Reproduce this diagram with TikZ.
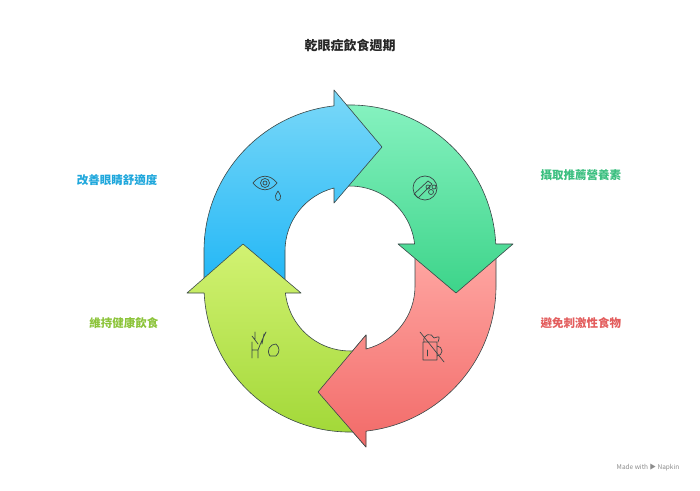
\documentclass[tikz,border=0pt]{standalone}
\usepackage{fontspec}
\setmainfont{Noto Sans CJK TC}
\usetikzlibrary{positioning}
\definecolor{lblblue}{HTML}{1EA7DC}
\definecolor{lblgreen}{HTML}{3BBF80}
\definecolor{lblred}{HTML}{E35D5D}
\definecolor{lbllime}{HTML}{8CC43A}
\definecolor{edge}{HTML}{3A4848}
\definecolor{bluetop}{HTML}{7AD8F8}
\definecolor{bluebot}{HTML}{20B6F6}
\definecolor{greentop}{HTML}{86F2C0}
\definecolor{greenbot}{HTML}{3DD48A}
\definecolor{redtop}{HTML}{FFA8A4}
\definecolor{redbot}{HTML}{F26A68}
\definecolor{limetop}{HTML}{D2F272}
\definecolor{limebot}{HTML}{A2D838}
\tikzset{
  seg/.style={draw=edge,line width=0.6pt,line join=round},
  icon/.style={draw=edge,line width=0.7pt,line cap=round,line join=round},
  lbl/.style={font=\bfseries\fontsize{11.5}{13}\selectfont}
}
\begin{document}
\begin{tikzpicture}[x=1pt,y=1pt]
  \useasboundingbox (0,0) rectangle (700,490);
  \fill[white] (0,0) rectangle (700,490);
  \node[font=\bfseries\fontsize{13}{15}\selectfont,text=black!85] (title) at (350,445) {乾眼症飲食週期};
% ring segments
  \def\redseg{(496,243) -- (496,204) arc[start angle=0,end angle=-83.7,radius=146]
    -- (366,43) -- (318,98) -- (366,155) -- (366,141)
    arc[start angle=-75.75,end angle=0,radius=65] -- (415,243) -- cycle}
  \path[seg,top color=redtop,bottom color=redbot] \redseg;
  \path[seg,top color=greentop,bottom color=greenbot]
    (340,384.7) arc[start angle=93.9,end angle=2.75,radius=146] -- (513,246) -- (456,197)
    -- (398,246) -- (414.6,246) arc[start angle=6.2,end angle=98.85,radius=65] -- cycle;
  \path[seg,top color=bluetop,bottom color=bluebot]
    (204,200) -- (204,239) arc[start angle=180,end angle=96.3,radius=146]
    -- (334,400) -- (382,343) -- (334,287) -- (334,302)
    arc[start angle=104.25,end angle=180,radius=65] -- (285,200) -- cycle;
  \path[seg,top color=limetop,bottom color=limebot]
    (360,58.3) arc[start angle=-86.07,end angle=-177.25,radius=146] -- (187,197)
    -- (243,246) -- (301,197) -- (285.4,197)
    arc[start angle=-173.8,end angle=-81.15,radius=65] -- cycle;
  \begin{scope}
    \clip (366.4,42) -- (317,98) -- (366.4,156) -- cycle;
    \path[seg,top color=redtop,bottom color=redbot] \redseg;
  \end{scope}
% icons
  \draw[icon] (253,307) .. controls (260,316) and (270,316) .. (277,307)
    .. controls (270,298) and (260,298) .. (253,307);
  \draw[icon] (265,307) circle (4.5) (265,307) circle (2);
  \draw[icon] (278,299) .. controls (275,294) .. (276,291) arc[start angle=200,end angle=340,radius=2.2] .. controls (281,294) .. (278,299);
  \draw[icon] (425,302) circle (12);
  \draw[icon] (418,292) -- (432,306) -- (428,309) -- (414,296) -- cycle;
  \draw[icon] (431,298) circle (2.5) (428,303) circle (2) (434,303) circle (2);
  \draw[icon] (423,130) rectangle (437,148) (437,144) arc[start angle=90,end angle=-90,radius=5];
  \draw[icon] (424,148) .. controls (422,156) and (432,158) .. (434,152) .. controls (440,154) .. (438,148);
  \draw[icon] (420,158) -- (444,128);
  \draw[icon] (427,134) -- (427,140);
  \draw[icon] (252,132) -- (252,148) (258,132) -- (258,140) -- (252,140)
    (255,150) -- (255,158) (252,154) -- (258,146) (258,140) .. controls (262,150) .. (266,158)
    (262,146) -- (264,156);
  \draw[icon] (270,134) .. controls (266,140) and (270,146) .. (276,146) .. controls (280,142) and (280,138) .. (276,134) -- cycle;
% labels
  \node[lbl,text=lblblue,anchor=east] (eyes) at (161,310) {改善眼睛舒適度};
  \node[lbl,text=lblgreen,anchor=west] (nutri) at (537,315) {攝取推薦營養素};
  \node[lbl,text=lblred,anchor=west] (avoid) at (537,167) {避免刺激性食物};
  \node[lbl,text=lbllime,anchor=east] (keep) at (162,167) {維持健康飲食};
  \node[font=\fontsize{6.5}{8}\selectfont,text=black!45] (made) at (648,23) {Made with ▶ Napkin};
\end{tikzpicture}
\end{document}
